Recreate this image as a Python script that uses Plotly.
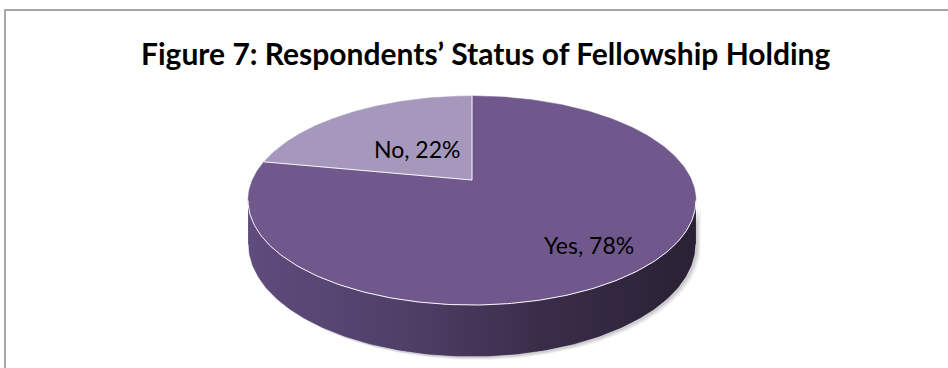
import numpy as np
import plotly.graph_objects as go

# Survey result: fellowship holding status
labels = ["Yes", "No"]
shares = [78, 22]
slice_colors = ["#70588d", "#a698bd"]
title_text = "Figure 7: Respondents’ Status of Fellowship Holding"

# Canvas / projection settings (pixel units on a 948x368 canvas)
W, H = 948, 368
CX, CY = 472, 180          # projected pie centre
A, B = 219.6, 100.5        # horizontal / vertical radii before perspective
K = 0.196                  # perspective strength (far side smaller)
DEPTH = 41.8               # thickness of the disc
LABEL_RADIUS = [0.74, 0.42]


def project(theta_deg, r=1.0, drop=0.0):
    """Map a polar point on the disc (angle clockwise from 12 o'clock) to the canvas."""
    t = np.radians(theta_deg)
    u = r * np.sin(t)
    v = r * np.cos(t)
    den = 1 + K * v
    return CX + A * u / den, CY - B * v / den + drop / den


fig = go.Figure()

# Angular extents of each slice, starting at 12 o'clock and running clockwise
total = float(sum(shares))
starts = np.cumsum([0] + shares[:-1]) / total * 360
ends = np.cumsum(shares) / total * 360

# Side wall: the visible front part between the left and right silhouette points
sil_r = np.degrees(np.arccos(-K))
sil_l = 360 - sil_r
th = np.linspace(sil_r, sil_l, 200)
tx, ty = project(th)
bx, by = project(th[::-1], drop=DEPTH)
side_x = np.concatenate([tx, bx, tx[:1]])
side_y = np.concatenate([ty, by, ty[:1]])

# soft drop shadow under the disc
for off, alpha in [(5, 0.05), (3.5, 0.07), (2, 0.09)]:
    fig.add_trace(go.Scatter(
        x=side_x + off, y=side_y + off * 0.6, mode="lines", fill="toself",
        fillcolor=f"rgba(0,0,0,{alpha})", line=dict(width=0),
        hoverinfo="skip", showlegend=False))

fig.add_trace(go.Scatter(
    x=side_x, y=side_y, mode="lines", fill="toself",
    fillgradient=dict(type="horizontal", colorscale=[
        [0.0, "#5f4b7d"], [0.35, "#4f3f67"], [0.65, "#3a2d4a"], [1.0, "#2a2134"]]),
    line=dict(width=0), hoverinfo="skip", showlegend=False))

# bottom rim highlight
fig.add_trace(go.Scatter(
    x=bx, y=by, mode="lines", line=dict(color="rgba(255,255,255,0.55)", width=1),
    hoverinfo="skip", showlegend=False))

# Top face slices
for lab, s0, s1, col in zip(labels, starts, ends, slice_colors):
    arc = np.linspace(s0, s1, 300)
    ax_, ay_ = project(arc)
    px = np.concatenate([[CX], ax_, [CX]])
    py = np.concatenate([[CY], ay_, [CY]])
    fig.add_trace(go.Scatter(
        x=px, y=py, mode="lines", fill="toself", fillcolor=col,
        line=dict(color=col, width=0.5), hoverinfo="skip", showlegend=False))

# white edges: slice dividers and the front rim of the top face
for ang in starts:
    ex, ey = project(np.array([ang]))
    fig.add_trace(go.Scatter(
        x=[CX, ex[0]], y=[CY, ey[0]], mode="lines",
        line=dict(color="rgba(255,255,255,0.9)", width=1),
        hoverinfo="skip", showlegend=False))
fig.add_trace(go.Scatter(
    x=tx, y=ty, mode="lines", line=dict(color="rgba(255,255,255,0.95)", width=1),
    hoverinfo="skip", showlegend=False))

# Data labels
for lab, val, s0, s1, r in zip(labels, shares, starts, ends, LABEL_RADIUS):
    lx, ly = project(np.array([(s0 + s1) / 2]), r=r)
    fig.add_annotation(
        x=lx[0], y=ly[0], text=f"{lab}, {val}%", showarrow=False,
        font=dict(family="Lato, Carlito, sans-serif", size=23, color="#000000"),
        xanchor="center", yanchor="middle")

fig.add_annotation(
    x=486 / W, y=1 - 53 / H, xref="paper", yref="paper", text=f"<b>{title_text}</b>",
    showarrow=False, xanchor="center", yanchor="middle",
    font=dict(family="Lato, Carlito, sans-serif", size=30, color="#000000"))

# Chart frame
fig.add_shape(type="path", path=f"M 5 {H} L 5 10 L {W} 10",
              line=dict(color="#8a8a8a", width=1.5), xref="x", yref="y")

fig.update_xaxes(range=[0, W], visible=False, fixedrange=True)
fig.update_yaxes(range=[H, 0], visible=False, fixedrange=True)
fig.update_layout(
    width=W, height=H, margin=dict(l=0, r=0, t=0, b=0),
    paper_bgcolor="white", plot_bgcolor="white", showlegend=False)

fig.write_html("out.html")
